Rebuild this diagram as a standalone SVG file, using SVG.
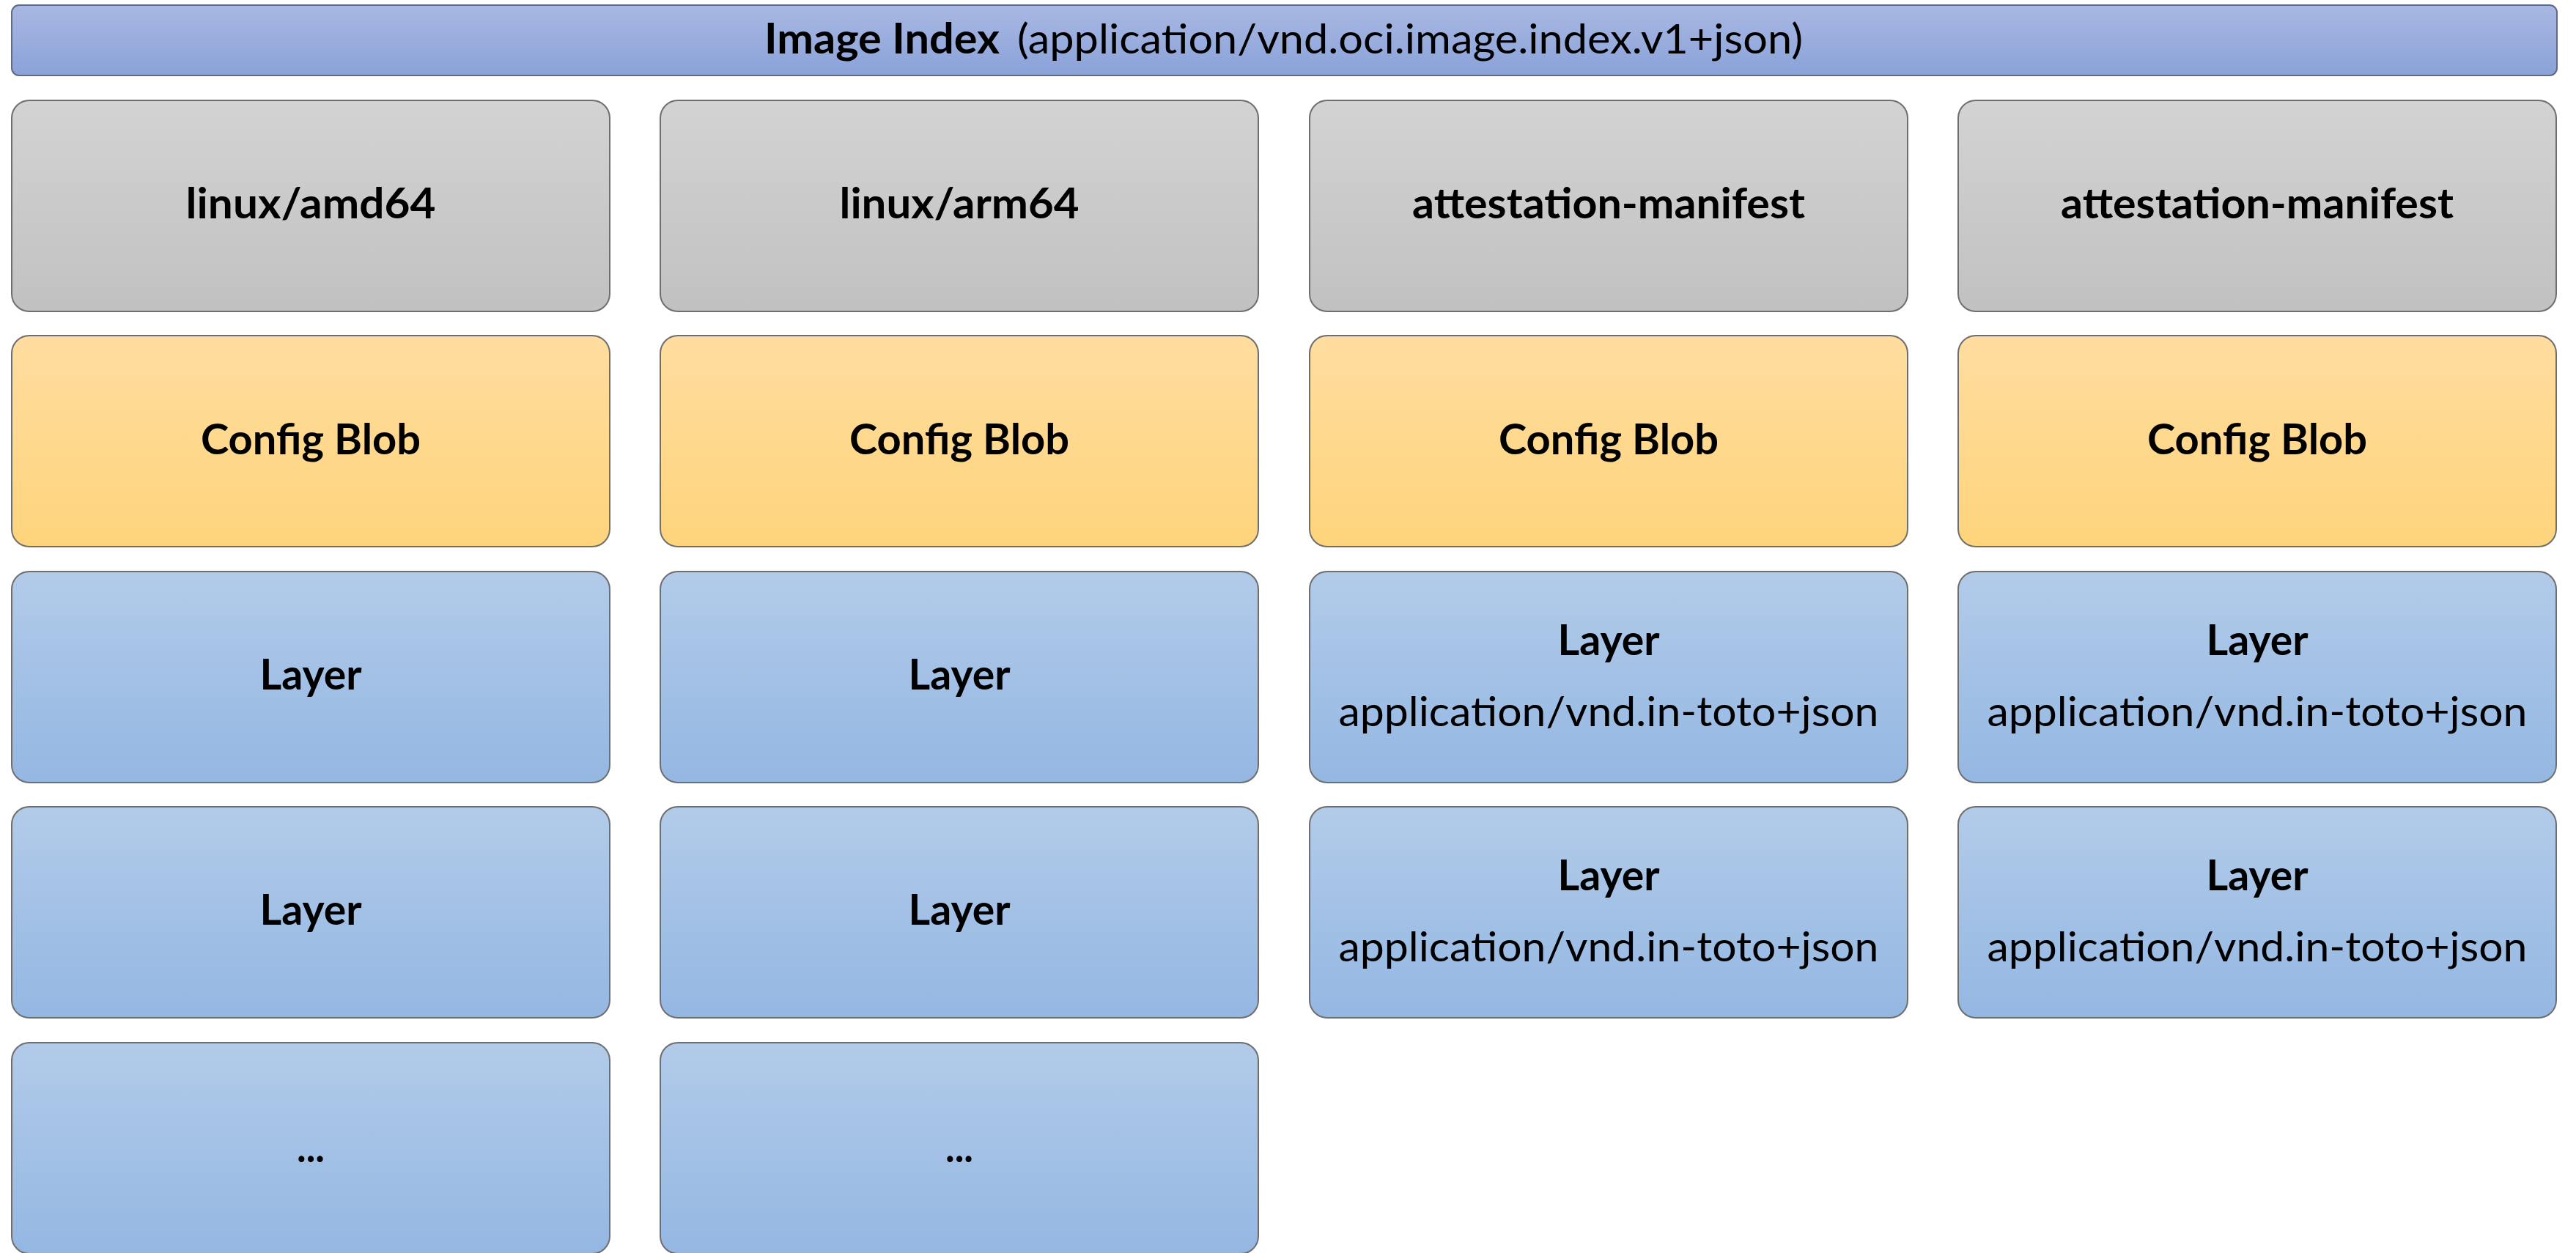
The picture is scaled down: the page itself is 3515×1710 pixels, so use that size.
<svg xmlns="http://www.w3.org/2000/svg" width="3515" height="1710" viewBox="0 0 3515 1710">
  <defs>
    <linearGradient id="gIndex" x1="0" y1="0" x2="0" y2="1">
      <stop offset="0" stop-color="#A9B8E2"/>
      <stop offset="1" stop-color="#8AA2D9"/>
    </linearGradient>
    <linearGradient id="gManifest" x1="0" y1="0" x2="0" y2="1">
      <stop offset="0" stop-color="#D3D3D3"/>
      <stop offset="1" stop-color="#C1C1C1"/>
    </linearGradient>
    <linearGradient id="gConfig" x1="0" y1="0" x2="0" y2="1">
      <stop offset="0" stop-color="#FEDD9F"/>
      <stop offset="1" stop-color="#FED47C"/>
    </linearGradient>
    <linearGradient id="gLayer" x1="0" y1="0" x2="0" y2="1">
      <stop offset="0" stop-color="#B2CBE9"/>
      <stop offset="1" stop-color="#94B7E2"/>
    </linearGradient>
    <style>
      .box { stroke: #6E6E6E; stroke-width: 2; }
      .index { fill: url(#gIndex); stroke: #5C6B8A; stroke-width: 2; }
      .manifest { fill: url(#gManifest); }
      .config { fill: url(#gConfig); }
      .layer { fill: url(#gLayer); }
      text { font-family: Lato, "Liberation Sans", sans-serif; font-size: 57px; fill: #000000; }
      .b { font-weight: bold; }
      .c { text-anchor: middle; }
    </style>
  </defs>

  <!-- image index header -->
  <g id="image-index">
    <rect class="index" x="16" y="7" width="3473" height="96" rx="10" ry="10"/>
    <text class="b" x="1043" y="73" textLength="321" lengthAdjust="spacingAndGlyphs">Image Index</text>
    <text x="1388" y="73" textLength="1072" lengthAdjust="spacingAndGlyphs">(application/vnd.oci.image.index.v1+json)</text>
  </g>

  <!-- connectors: none, the stack is implied by layout -->
  <g id="connectors"/>

  <!-- column 1: linux/amd64 -->
  <g id="amd64-manifest">
    <rect class="box manifest" x="16" y="137" width="816" height="288" rx="24" ry="24"/>
    <text class="b c" x="424" y="298" textLength="341" lengthAdjust="spacingAndGlyphs">linux/amd64</text>
  </g>
  <g id="amd64-config">
    <rect class="box config" x="16" y="458" width="816" height="288" rx="24" ry="24"/>
    <text class="b c" x="424" y="620" textLength="300" lengthAdjust="spacingAndGlyphs">Config Blob</text>
  </g>
  <g id="amd64-layer1">
    <rect class="box layer" x="16" y="780" width="816" height="288" rx="24" ry="24"/>
    <text class="b c" x="424" y="941" textLength="139" lengthAdjust="spacingAndGlyphs">Layer</text>
  </g>
  <g id="amd64-layer2">
    <rect class="box layer" x="16" y="1101" width="816" height="288" rx="24" ry="24"/>
    <text class="b c" x="424" y="1262" textLength="139" lengthAdjust="spacingAndGlyphs">Layer</text>
  </g>
  <g id="amd64-more">
    <rect class="box layer" x="16" y="1423" width="816" height="288" rx="24" ry="24"/>
    <text class="b c" x="424" y="1586" textLength="38" lengthAdjust="spacingAndGlyphs">...</text>
  </g>

  <!-- column 2: linux/arm64 -->
  <g id="arm64-manifest">
    <rect class="box manifest" x="901" y="137" width="816" height="288" rx="24" ry="24"/>
    <text class="b c" x="1309" y="298" textLength="327" lengthAdjust="spacingAndGlyphs">linux/arm64</text>
  </g>
  <g id="arm64-config">
    <rect class="box config" x="901" y="458" width="816" height="288" rx="24" ry="24"/>
    <text class="b c" x="1309" y="620" textLength="300" lengthAdjust="spacingAndGlyphs">Config Blob</text>
  </g>
  <g id="arm64-layer1">
    <rect class="box layer" x="901" y="780" width="816" height="288" rx="24" ry="24"/>
    <text class="b c" x="1309" y="941" textLength="139" lengthAdjust="spacingAndGlyphs">Layer</text>
  </g>
  <g id="arm64-layer2">
    <rect class="box layer" x="901" y="1101" width="816" height="288" rx="24" ry="24"/>
    <text class="b c" x="1309" y="1262" textLength="139" lengthAdjust="spacingAndGlyphs">Layer</text>
  </g>
  <g id="arm64-more">
    <rect class="box layer" x="901" y="1423" width="816" height="288" rx="24" ry="24"/>
    <text class="b c" x="1309" y="1586" textLength="38" lengthAdjust="spacingAndGlyphs">...</text>
  </g>

  <!-- column 3: attestation manifest -->
  <g id="attest1-manifest">
    <rect class="box manifest" x="1787" y="137" width="816" height="288" rx="24" ry="24"/>
    <text class="b c" x="2195" y="298" textLength="536" lengthAdjust="spacingAndGlyphs">attestation-manifest</text>
  </g>
  <g id="attest1-config">
    <rect class="box config" x="1787" y="458" width="816" height="288" rx="24" ry="24"/>
    <text class="b c" x="2195" y="620" textLength="300" lengthAdjust="spacingAndGlyphs">Config Blob</text>
  </g>
  <g id="attest1-layer1">
    <rect class="box layer" x="1787" y="780" width="816" height="288" rx="24" ry="24"/>
    <text class="b c" x="2195" y="894" textLength="139" lengthAdjust="spacingAndGlyphs">Layer</text>
    <text class="c" x="2195" y="991" textLength="737" lengthAdjust="spacingAndGlyphs">application/vnd.in-toto+json</text>
  </g>
  <g id="attest1-layer2">
    <rect class="box layer" x="1787" y="1101" width="816" height="288" rx="24" ry="24"/>
    <text class="b c" x="2195" y="1215" textLength="139" lengthAdjust="spacingAndGlyphs">Layer</text>
    <text class="c" x="2195" y="1312" textLength="737" lengthAdjust="spacingAndGlyphs">application/vnd.in-toto+json</text>
  </g>

  <!-- column 4: attestation manifest -->
  <g id="attest2-manifest">
    <rect class="box manifest" x="2672" y="137" width="816" height="288" rx="24" ry="24"/>
    <text class="b c" x="3080" y="298" textLength="536" lengthAdjust="spacingAndGlyphs">attestation-manifest</text>
  </g>
  <g id="attest2-config">
    <rect class="box config" x="2672" y="458" width="816" height="288" rx="24" ry="24"/>
    <text class="b c" x="3080" y="620" textLength="300" lengthAdjust="spacingAndGlyphs">Config Blob</text>
  </g>
  <g id="attest2-layer1">
    <rect class="box layer" x="2672" y="780" width="816" height="288" rx="24" ry="24"/>
    <text class="b c" x="3080" y="894" textLength="139" lengthAdjust="spacingAndGlyphs">Layer</text>
    <text class="c" x="3080" y="991" textLength="737" lengthAdjust="spacingAndGlyphs">application/vnd.in-toto+json</text>
  </g>
  <g id="attest2-layer2">
    <rect class="box layer" x="2672" y="1101" width="816" height="288" rx="24" ry="24"/>
    <text class="b c" x="3080" y="1215" textLength="139" lengthAdjust="spacingAndGlyphs">Layer</text>
    <text class="c" x="3080" y="1312" textLength="737" lengthAdjust="spacingAndGlyphs">application/vnd.in-toto+json</text>
  </g>
</svg>
